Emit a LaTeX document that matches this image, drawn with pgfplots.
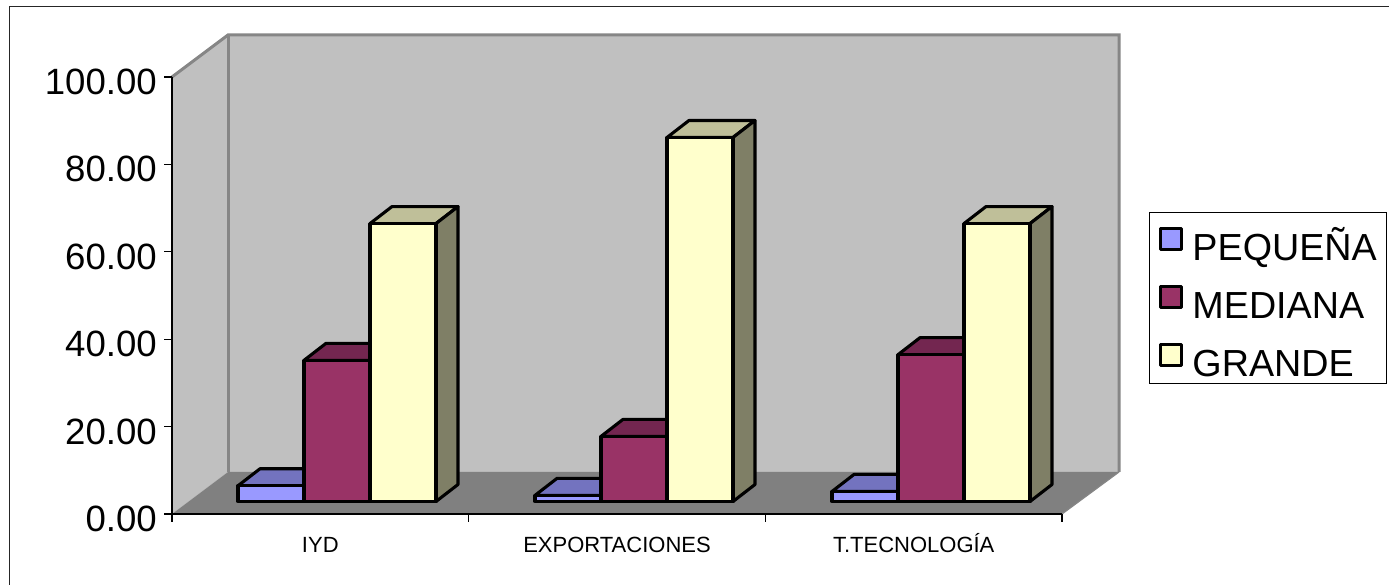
\documentclass[border=0pt]{standalone}
\usepackage{pgfplots}
\pgfplotsset{compat=1.18}
\usepackage{fontspec}
\setmainfont{Liberation Sans}
\definecolor{wall}{HTML}{C0C0C0}
\definecolor{floorc}{HTML}{808080}
\definecolor{edgec}{HTML}{868686}
\definecolor{sf}{HTML}{9999FF}
\definecolor{st}{HTML}{7373BF}
\definecolor{mf}{HTML}{993366}
\definecolor{mt}{HTML}{732650}
\definecolor{lf}{HTML}{FFFFCC}
\definecolor{lt}{HTML}{BFBF99}
\definecolor{ls}{HTML}{7F7F66}
\begin{document}
\begin{tikzpicture}[x=1pt,y=1pt]
\useasboundingbox (0,0) rectangle (1390,585);
\fill[white] (0,0) rectangle (1390,585);
\draw[line width=1.9pt,black!85] (9.5,-5) -- (9.5,578.5) -- (1389,578.5);
% --- walls, floor, axes ---
\begin{axis}[
  at={(172pt,71pt)}, anchor=south west,
  scale only axis, width=890pt, height=437pt,
  xmin=172, xmax=1062, ymin=0, ymax=100,
  clip=false, axis on top=true,
  axis x line=bottom, axis y line=left,
  axis line style={-, line width=1.4pt, black},
  tick style={line width=1.1pt, black},
  major tick length=8pt, minor tick length=8pt,
  tick align=outside,
  ytick={0,20,40,60,80,100},
  yticklabel style={font=\fontsize{36.6}{40}\selectfont, inner sep=0pt, xshift=-7pt, yshift=-5pt,
     /pgf/number format/fixed, /pgf/number format/fixed zerofill, /pgf/number format/precision=2,
     /pgf/number format/assume math mode=true},
  xtick={320.3,617,913.7},
  xticklabels={IYD,EXPORTACIONES,T.TECNOLOGÍA},
  minor xtick={172,468.7,765.3,1062},
  x tick style={draw=none},
  minor x tick style={draw=black, line width=1.1pt},
  xticklabel style={font=\fontsize{22}{24}\selectfont, text height=16pt, text depth=0pt, yshift=-11pt},
]
\addplot[fill=wall, draw=none] coordinates {(228,9.61)(228,109.61)(1119,109.61)(1119,9.61)} --cycle;
\addplot[fill=wall, draw=none] coordinates {(172,0)(228,9.61)(228,109.61)(172,100)} --cycle;
\addplot[fill=floorc, draw=none] coordinates {(172,0)(1062,0)(1119,9.61)(228,9.61)} --cycle;
\addplot[draw=edgec, line width=3pt] coordinates {(172,100)(228,109.61)(1119,109.61)(1119,9.61)};
\addplot[draw=edgec, line width=3pt] coordinates {(228,109.61)(228,9.61)};
\addplot[draw=edgec, line width=1.2pt] coordinates {(1062,0)(1119,9.61)};
\end{axis}
% --- bars: front base 12 px above the floor's front edge ---
\begin{axis}[
  at={(172pt,83.5pt)}, anchor=south west,
  scale only axis, width=890pt, height=437pt,
  xmin=172, xmax=1062, ymin=0, ymax=100,
  clip=false, hide axis,
  every axis plot/.append style={draw=black, line width=3.1pt, line join=round},
  legend style={at={(axis cs:1149,27)}, anchor=south west, legend cell align=left,
    draw=black, line width=0.9pt, inner xsep=10pt, inner ysep=0pt,
    row sep=3pt, column sep=9pt, font=\fontsize{37.7}{38}\selectfont,
    nodes={inner sep=0pt, text height=48pt, text depth=7pt, text width=184pt}},
  legend image code/.code={\draw[#1, draw=black, line width=3pt] (0pt,-10pt) rectangle (21pt,11pt);},
]
\addlegendimage{fill=sf}\addlegendentry{PEQUEÑA}
\addlegendimage{fill=mf}\addlegendentry{MEDIANA}
\addlegendimage{fill=lf}\addlegendentry{GRANDE}
% IYD small 3.6
\addplot[fill=st] coordinates {(238,3.6)(304,3.6)(326,7.49)(260,7.49)} --cycle;
\addplot[fill=sf] coordinates {(238,0)(304,0)(304,3.6)(238,3.6)} --cycle;
% IYD medium 32.3
\addplot[fill=mt] coordinates {(304,32.3)(370,32.3)(392,36.19)(326,36.19)} --cycle;
\addplot[fill=mf] coordinates {(304,0)(370,0)(370,32.3)(304,32.3)} --cycle;
% IYD large 63.6
\addplot[fill=lt] coordinates {(370,63.6)(436,63.6)(458,67.49)(392,67.49)} --cycle;
\addplot[fill=ls] coordinates {(436,0)(458,3.89)(458,67.49)(436,63.6)} --cycle;
\addplot[fill=lf] coordinates {(370,0)(436,0)(436,63.6)(370,63.6)} --cycle;
% EXPORTACIONES small 1.4
\addplot[fill=st] coordinates {(535,1.4)(601,1.4)(623,5.29)(557,5.29)} --cycle;
\addplot[fill=sf] coordinates {(535,0)(601,0)(601,1.4)(535,1.4)} --cycle;
% EXPORTACIONES medium 14.9
\addplot[fill=mt] coordinates {(601,14.9)(667,14.9)(689,18.79)(623,18.79)} --cycle;
\addplot[fill=mf] coordinates {(601,0)(667,0)(667,14.9)(601,14.9)} --cycle;
% EXPORTACIONES large 83.3
\addplot[fill=lt] coordinates {(667,83.3)(733,83.3)(755,87.19)(689,87.19)} --cycle;
\addplot[fill=ls] coordinates {(733,0)(755,3.89)(755,87.19)(733,83.3)} --cycle;
\addplot[fill=lf] coordinates {(667,0)(733,0)(733,83.3)(667,83.3)} --cycle;
% T.TECNOLOGIA small 2.3
\addplot[fill=st] coordinates {(832,2.3)(898,2.3)(920,6.19)(854,6.19)} --cycle;
\addplot[fill=sf] coordinates {(832,0)(898,0)(898,2.3)(832,2.3)} --cycle;
% T.TECNOLOGIA medium 33.6
\addplot[fill=mt] coordinates {(898,33.6)(964,33.6)(986,37.49)(920,37.49)} --cycle;
\addplot[fill=mf] coordinates {(898,0)(964,0)(964,33.6)(898,33.6)} --cycle;
% T.TECNOLOGIA large 63.6
\addplot[fill=lt] coordinates {(964,63.6)(1030,63.6)(1052,67.49)(986,67.49)} --cycle;
\addplot[fill=ls] coordinates {(1030,0)(1052,3.89)(1052,67.49)(1030,63.6)} --cycle;
\addplot[fill=lf] coordinates {(964,0)(1030,0)(1030,63.6)(964,63.6)} --cycle;
\end{axis}
\end{tikzpicture}
\end{document}
